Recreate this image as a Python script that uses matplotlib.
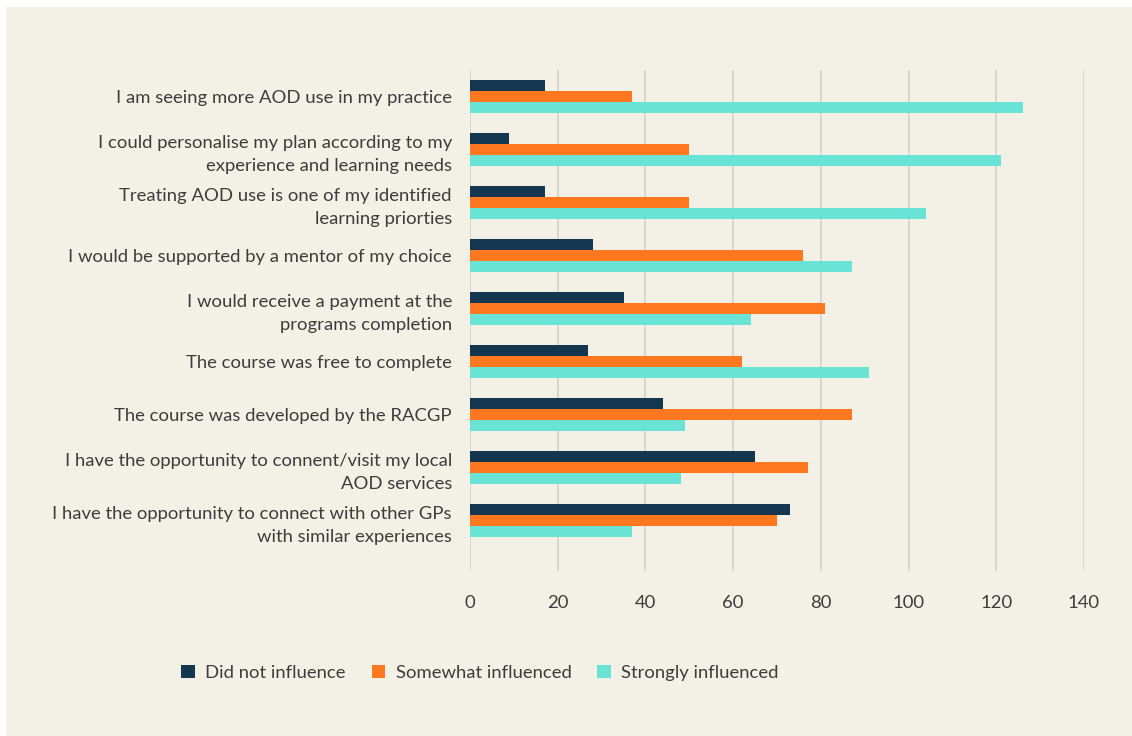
import numpy as np
import matplotlib.pyplot as plt
from matplotlib.patches import Rectangle, Patch

plt.rcParams['font.family'] = ['Lato', 'DejaVu Sans']

categories = [
    "I am seeing more AOD use in my practice",
    "I could personalise my plan according to my\nexperience and learning needs",
    "Treating AOD use is one of my identified\nlearning priorties",
    "I would be supported by a mentor of my choice",
    "I would receive a payment at the\nprograms completion",
    "The course was free to complete",
    "The course was developed by the RACGP",
    "I have the opportunity to connent/visit my local\nAOD services",
    "I have the opportunity to connect with other GPs\nwith similar experiences",
]
did_not = [17, 9, 17, 28, 35, 27, 44, 65, 73]
somewhat = [37, 50, 50, 76, 81, 62, 87, 77, 70]
strongly = [126, 121, 104, 87, 64, 91, 49, 48, 37]
series_names = ["Did not influence", "Somewhat influenced", "Strongly influenced"]
colors = ["#14364f", "#ff7820", "#68e3d6"]

bg = "#f3f1e6"
txt = "#3c3c3c"

fig = plt.figure(figsize=(11.32, 7.36), dpi=100)
fig.patch.set_facecolor("white")
# beige panel with a thin white margin at top/left
fig.patches.append(Rectangle((6 / 1132, 0), 1, 1 - 7 / 736, transform=fig.transFigure,
                             facecolor=bg, edgecolor="none", zorder=-10))

ax = fig.add_axes([470 / 1132, 1 - 571 / 736, 614 / 1132, 501 / 736])
ax.set_facecolor(bg)

y = np.arange(len(categories))
h = 0.21
for i, (vals, c) in enumerate(zip([did_not, somewhat, strongly], colors)):
    ax.barh(y + (i - 1) * h, vals, height=h, color=c, zorder=3)

ax.set_xlim(0, 140)
ax.set_ylim(8.95, -0.5)
ax.set_xticks(np.arange(0, 141, 20))
ax.grid(axis="x", color="#d2d0ca", linewidth=1.2, zorder=0)
for s in ax.spines.values():
    s.set_visible(False)
ax.tick_params(axis="x", length=0, pad=17, labelsize=13.3, labelcolor=txt)
ax.tick_params(axis="y", length=0, pad=13)
ax.set_yticks(y)
ax.set_yticklabels(categories, fontsize=13.3, color=txt, linespacing=1.5)

handles = [Patch(facecolor=c, edgecolor="none") for c in colors]
fig.legend(handles, series_names, loc="center", bbox_to_anchor=(480 / 1132, 1 - 673 / 736),
           ncol=3, frameon=False, fontsize=13.3, labelcolor=txt,
           handlelength=0.75, handleheight=0.75, handletextpad=0.55, columnspacing=1.4)

fig.savefig("out.png", dpi=100, facecolor=fig.get_facecolor())
